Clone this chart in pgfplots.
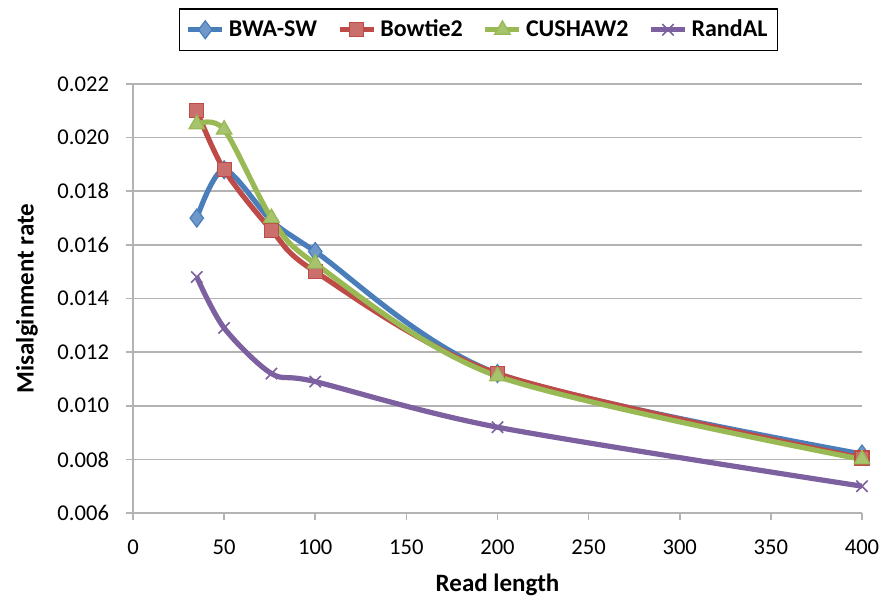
\documentclass[border=0pt]{standalone}
\usepackage{fontspec}
\setmainfont{Carlito}
\usepackage{pgfplots}
\pgfplotsset{compat=1.18}
\definecolor{cblue}{HTML}{4A7EBB}
\definecolor{cred}{HTML}{BE4B48}
\definecolor{cgreen}{HTML}{98B954}
\definecolor{cpurple}{HTML}{7D60A0}
\definecolor{gridc}{HTML}{B3B3B3}
\begin{document}
\begin{tikzpicture}
\begin{axis}[
  scale only axis, width=364.5bp, height=214.5bp,
  xmin=0, xmax=400, ymin=0.006, ymax=0.022,
  xtick={0,50,100,150,200,250,300,350,400},
  ytick={0.006,0.008,0.010,0.012,0.014,0.016,0.018,0.020,0.022},
  scaled y ticks=false,
  yticklabel style={/pgf/number format/.cd, fixed, fixed zerofill, precision=3, /tikz/.cd, xshift=-5bp},
  xticklabel style={yshift=-6.5bp},
  /pgf/number format/assume math mode=true,
  axis lines*=left,
  axis line style={gridc, line width=0.8bp},
  ymajorgrids, grid style={gridc, line width=0.8bp},
  tick align=outside, major tick length=3.5bp,
  tick style={gridc, line width=0.8bp},
  ticklabel style={font=\fontsize{11.3bp}{13bp}\selectfont},
  xlabel={\bfseries Read length},
  ylabel={\bfseries Misalginment rate},
  label style={font=\fontsize{12.5bp}{15bp}\selectfont},
  xlabel style={at={([yshift=-36bp]axis description cs:0.5,0)}, anchor=center},
  ylabel style={at={([xshift=-53bp]axis description cs:0,0.5)}, anchor=center},
  legend style={at={(0.474,1.177)}, anchor=north, legend columns=4,
    draw=black, line width=0.8bp, inner xsep=3bp, inner ysep=3.5bp,
    font=\bfseries\fontsize{12bp}{14bp}\selectfont,
    /tikz/every even column/.append style={column sep=8bp}},
  every axis plot/.append style={line width=2.6bp, smooth, tension=0.5},
]
\addplot[cblue, mark=diamond*, mark size=4.5bp, mark options={fill=cblue!80!white, draw=cblue, line width=0.6bp}]
  coordinates {(35,0.0170)(50,0.0188)(76,0.0169)(100,0.01575)(200,0.0112)(400,0.0082)};
\addlegendentry{BWA-SW}
\addplot[cred, mark=square*, mark size=3.5bp, mark options={fill=cred!80!white, draw=cred, line width=0.6bp}]
  coordinates {(35,0.0210)(50,0.0188)(76,0.01655)(100,0.0150)(200,0.0112)(400,0.00805)};
\addlegendentry{Bowtie2}
\addplot[cgreen, mark=triangle*, mark size=4.5bp, mark options={fill=cgreen!85!white, draw=cgreen, line width=0.6bp}]
  coordinates {(35,0.0205)(50,0.0203)(76,0.0170)(100,0.0153)(200,0.0111)(400,0.0080)};
\addlegendentry{CUSHAW2}
\addplot[cpurple, mark=x, mark size=4bp, mark options={draw=cpurple, line width=0.8bp}]
  coordinates {(35,0.0148)(50,0.0129)(76,0.0112)(100,0.0109)(200,0.0092)(400,0.0070)};
\addlegendentry{RandAL}
\end{axis}
\pgfresetboundingbox
\useasboundingbox (-66.5bp,-41.5bp) rectangle (375bp,256.5bp);
\end{tikzpicture}
\end{document}
